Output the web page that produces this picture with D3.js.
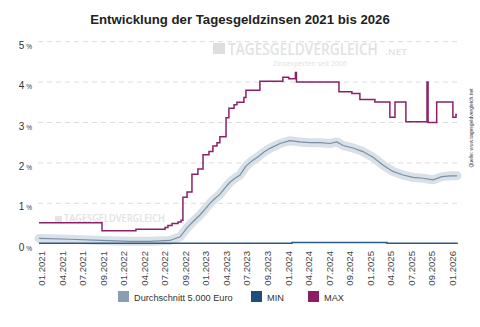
<!DOCTYPE html>
<html>
<head>
<meta charset="utf-8">
<script src="https://cdn.jsdelivr.net/npm/d3@7"></script>
<style>
  body { margin: 0; background: #fff; }
  svg { font-family: "Liberation Sans", Arial, sans-serif; display: block; }
</style>
</head>
<body>
<div id="chart"></div>
<script>
var svgWidth = 480;
var svgHeight = 327;

// x labels sit at evenly spaced positions 0..20
var xLabels = ["01.2021", "04.2021", "07.2021", "09.2021", "01.2022", "04.2022", "07.2022",
  "09.2022", "01.2023", "04.2023", "07.2023", "09.2023", "01.2024", "04.2024", "07.2024",
  "09.2024", "01.2025", "04.2025", "07.2025", "09.2025", "01.2026"];
var yTicks = [0, 1, 2, 3, 4, 5];

// [position, rate %]
var maxRates = [
  [-0.13, 0.52], [2.94, 0.32], [4.59, 0.36], [6.01, 0.40], [6.15, 0.45], [6.35, 0.50],
  [6.64, 0.54], [6.79, 0.58], [6.88, 1.15], [7.08, 1.28], [7.32, 1.72], [7.61, 1.85],
  [7.86, 2.20], [8.15, 2.28], [8.34, 2.42], [8.54, 2.50], [8.68, 2.65], [8.98, 3.12],
  [9.12, 3.35], [9.37, 3.44], [9.51, 3.50], [9.85, 3.62], [9.95, 3.80], [10.63, 4.02],
  [11.75, 4.12], [12.04, 4.08], [12.36, 4.24], [12.41, 4.00], [14.48, 3.76], [15.11, 3.72],
  [15.50, 3.57], [16.23, 3.51], [16.96, 3.13], [17.21, 3.51], [17.74, 3.02], [18.77, 4.00],
  [18.82, 3.00], [19.24, 3.51], [20.03, 3.13], [20.18, 3.20], [20.23, 3.20]
];

var avgRates = [
  [-0.13, 0.13], [1.38, 0.11], [2.84, 0.08], [4.30, 0.06], [5.27, 0.06], [6.25, 0.08],
  [6.74, 0.17], [7.08, 0.39], [7.32, 0.52], [7.71, 0.71], [7.95, 0.85], [8.20, 1.00],
  [8.44, 1.12], [8.68, 1.22], [8.93, 1.38], [9.17, 1.52], [9.42, 1.62], [9.66, 1.70],
  [9.95, 1.92], [10.24, 2.05], [10.54, 2.15], [10.83, 2.27], [11.12, 2.36], [11.61, 2.48],
  [12.09, 2.55], [12.58, 2.52], [13.07, 2.50], [13.56, 2.50], [14.04, 2.48], [14.38, 2.52],
  [14.68, 2.43], [15.16, 2.37], [15.65, 2.28], [16.14, 2.14], [16.62, 1.95], [17.11, 1.79],
  [17.60, 1.70], [18.09, 1.64], [18.57, 1.62], [19.06, 1.58], [19.50, 1.66], [19.89, 1.68],
  [20.23, 1.68]
];

var minRates = [
  [-0.13, 0.01], [12.19, 0.03], [16.82, 0.01], [20.27, 0.01]
];

var legendItems = [
  { name: "Durchschnitt 5.000 Euro", color: "#8b9db2", x: 118 },
  { name: "MIN", color: "#1f4d7c", x: 251 },
  { name: "MAX", color: "#8c1d63", x: 308 }
];

var svg = d3.select("#chart")
  .append("svg")
  .attr("width", svgWidth)
  .attr("height", svgHeight);

var xScale = d3.scaleLinear().domain([-0.13, 20.23]).range([39, 457]);
var yScale = d3.scaleLinear().domain([0, 5]).range([243.7, 41.7]);

// title
svg.append("text")
  .attr("x", 240)
  .attr("y", 24)
  .attr("text-anchor", "middle")
  .attr("font-size", 13.2)
  .attr("font-weight", "bold")
  .attr("fill", "#222")
  .text("Entwicklung der Tagesgeldzinsen 2021 bis 2026");

// gridlines
svg.append("g")
  .selectAll("line")
  .data(yTicks.filter(d => d > 0))
  .enter()
  .append("line")
  .attr("x1", 38)
  .attr("x2", 458)
  .attr("y1", d => yScale(d))
  .attr("y2", d => yScale(d))
  .attr("stroke", "#dcdcdc")
  .attr("stroke-dasharray", "5,4");

// y labels
var yLab = svg.append("g")
  .selectAll("text")
  .data(yTicks)
  .enter()
  .append("text")
  .attr("x", 32)
  .attr("y", d => yScale(d) + 7)
  .attr("text-anchor", "end")
  .attr("fill", "#333");
yLab.append("tspan").attr("font-size", 10).text(d => d);
yLab.append("tspan").attr("font-size", 6.5).text(" %");

// watermarks: squeeze text horizontally to a target width
function wmText(g, str, x, y, size, width) {
  var t = g.append("text")
    .attr("font-size", size)
    .attr("font-weight", 600)
    .text(str);
  var w = t.node().getComputedTextLength();
  t.attr("transform", `translate(${x}, ${y}) scale(${width / w}, 1)`);
  return t;
}

var wm = svg.append("g").attr("fill", "#e2e2e2")
  .attr("font-family", "'Open Sans', sans-serif");
wm.append("rect").attr("x", 213).attr("y", 43).attr("width", 12).attr("height", 11).attr("fill", "#dedede");
wmText(wm, "TAGESGELDVERGLEICH", 228, 55, 16, 150);
wmText(wm, ".NET", 385, 55, 9, 22);
wm.append("text").attr("x", 310).attr("y", 66).attr("font-size", 7).attr("text-anchor", "middle")
  .text("Zinsexperten seit 2006");
wm.append("rect").attr("x", 55).attr("y", 216).attr("width", 7).attr("height", 6).attr("fill", "#e4e4e4");
wmText(wm, "TAGESGELDVERGLEICH", 64, 222, 10, 101);

// average band + line
var avgLine = d3.line()
  .x(d => xScale(d[0]))
  .y(d => yScale(d[1]))
  .curve(d3.curveLinear);

svg.append("path")
  .datum(avgRates)
  .attr("d", avgLine)
  .attr("fill", "none")
  .attr("stroke", "#d8e0e8")
  .attr("stroke-width", 9)
  .attr("stroke-linejoin", "round")
  .attr("stroke-linecap", "round");

svg.append("path")
  .datum(avgRates)
  .attr("d", avgLine)
  .attr("fill", "none")
  .attr("stroke", "#7c8ea4")
  .attr("stroke-width", 1.2);

// min line
var stepLine = d3.line()
  .x(d => xScale(d[0]))
  .y(d => yScale(d[1]))
  .curve(d3.curveStepAfter);

svg.append("path")
  .datum(minRates)
  .attr("d", stepLine)
  .attr("fill", "none")
  .attr("stroke", "#2b5a86")
  .attr("stroke-width", 1.5);

// max line
svg.append("path")
  .datum(maxRates)
  .attr("d", stepLine)
  .attr("fill", "none")
  .attr("stroke", "#8c2066")
  .attr("stroke-width", 1.5);

// x labels
svg.append("g")
  .selectAll("text")
  .data(xLabels)
  .enter()
  .append("text")
  .attr("transform", (d, i) => `translate(${xScale(i) + 3.5}, 251) rotate(-90)`)
  .attr("text-anchor", "end")
  .attr("font-size", 9.6)
  .attr("fill", "#444")
  .text(d => d);

// source note
svg.append("text")
  .attr("transform", "translate(473, 128) rotate(-90)")
  .attr("text-anchor", "middle")
  .attr("font-size", 5)
  .attr("fill", "#333")
  .text("Quelle: www.tagesgeldvergleich.net");

// legend
var leg = svg.append("g")
  .selectAll("g")
  .data(legendItems)
  .enter()
  .append("g")
  .attr("transform", d => `translate(${d.x}, 291)`);

leg.append("rect")
  .attr("width", 11)
  .attr("height", 11)
  .attr("fill", d => d.color);

leg.append("text")
  .attr("x", 16)
  .attr("y", 9.5)
  .attr("font-size", 9.2)
  .attr("fill", "#333")
  .text(d => d.name);
</script>
</body>
</html>
